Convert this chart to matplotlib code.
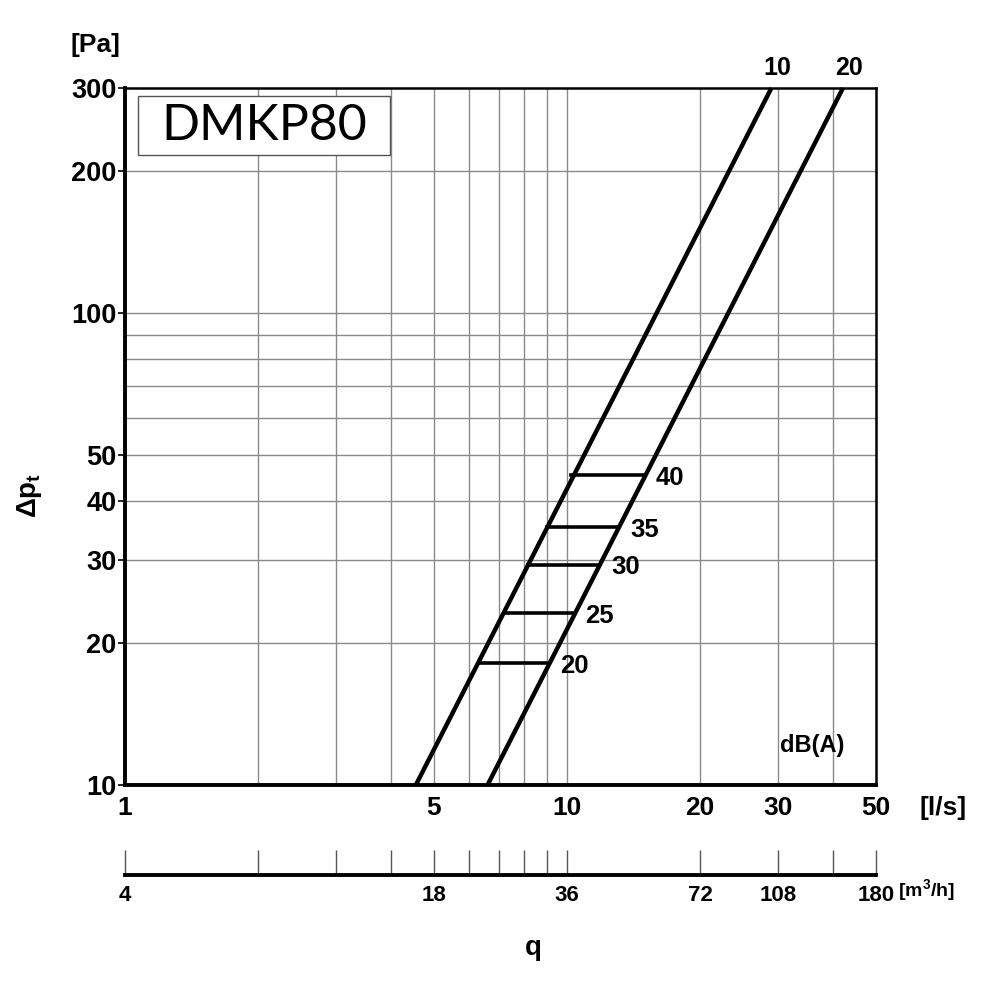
import numpy as np
import matplotlib
matplotlib.use("Agg")
import matplotlib.pyplot as plt
from matplotlib.patches import Rectangle

plt.rcParams['font.family'] = ['Liberation Sans', 'DejaVu Sans']
plt.rcParams['font.weight'] = 'bold'
plt.rcParams['mathtext.fontset'] = 'custom'
plt.rcParams['mathtext.rm'] = 'Liberation Sans:bold'
plt.rcParams['mathtext.it'] = 'Liberation Sans:bold'
plt.rcParams['mathtext.bf'] = 'Liberation Sans:bold'

# characteristic lines (q in l/s, dp in Pa), labelled by damper setting
line_labels = ['10', '20']
line_q = [[4.55, 29.0], [6.61, 42.1]]
line_dp = [[10, 300], [10, 300]]

# noise level steps dB(A)
db_levels = [20, 25, 30, 35, 40]
db_dp = [18.1, 23.1, 29.3, 35.2, 45.4]
db_q_left = [6.36, 7.24, 8.16, 9.01, 10.2]
db_q_right = [9.06, 10.31, 11.81, 13.04, 14.9]

# axes
x_grid = [2, 3, 4, 5, 6, 7, 8, 9, 10, 20, 30, 40]
x_ticks = [1, 5, 10, 20, 30, 50]
y_grid = [20, 30, 40, 50, 60, 70, 80, 90, 100, 200]
y_ticks = [10, 20, 30, 40, 50, 100, 200, 300]

# second scale in m3/h
m3h_ticks = [3.6, 7.2, 10.8, 14.4, 18, 21.6, 25.2, 28.8, 32.4, 36, 72, 108, 144, 180]
m3h_labels = {3.6: '4', 18: '18', 36: '36', 72: '72', 108: '108', 180: '180'}

grid_col = '#8a8a8a'

fig = plt.figure(figsize=(10, 10), dpi=100)
ax = fig.add_axes([0.125, 0.215, 0.751, 0.697])
ax.set_xscale('log')
ax.set_yscale('log')
ax.set_xlim(1, 50)
ax.set_ylim(10, 300)

for xv in x_grid:
    ax.axvline(xv, color=grid_col, lw=1, zorder=1)
for yv in y_grid:
    ax.axhline(yv, color=grid_col, lw=1, zorder=1)

ax.set_xticks(x_ticks)
ax.set_xticklabels([str(v) for v in x_ticks], fontsize=19, fontweight='bold')
ax.set_xticks([], minor=True)
ax.set_yticks(y_ticks)
ax.set_yticklabels([str(v) for v in y_ticks], fontsize=19.5, fontweight='bold')
ax.set_yticks([], minor=True)
ax.tick_params(axis='x', length=0, pad=8)
ax.tick_params(axis='y', length=5, width=1.2, pad=1)

for s in ['top', 'right']:
    ax.spines[s].set_linewidth(1.8)
for s in ['bottom', 'left']:
    ax.spines[s].set_linewidth(2.8)

for lab, qq, pp in zip(line_labels, line_q, line_dp):
    ax.plot(qq, pp, color='black', lw=3.2, solid_capstyle='butt', zorder=3, clip_on=False)
    ax.annotate(lab, (qq[1], pp[1]), xytext=(4, 6), textcoords='offset points',
                ha='center', va='bottom', fontsize=18, fontweight='bold')

for lev, dp, ql, qr in zip(db_levels, db_dp, db_q_left, db_q_right):
    ax.plot([ql, qr], [dp, dp], color='black', lw=2.6, zorder=3)
    ax.annotate(str(lev), (qr, dp), xytext=(9, -2), textcoords='offset points',
                ha='left', va='center', fontsize=18.5, fontweight='bold')

ax.text(0.915, 0.057, 'dB(A)', transform=ax.transAxes, ha='center', va='center',
        fontsize=17, fontweight='bold')

# model name box
ax.add_patch(Rectangle((0.0173, 0.904), 0.336, 0.0845, transform=ax.transAxes,
                       facecolor='white', edgecolor='#555555', lw=1, zorder=4))
ax.text(0.185, 0.946, 'DMKP80', transform=ax.transAxes, ha='center', va='center',
        fontsize=36, fontweight='normal', family=['Lato', 'DejaVu Sans'], zorder=5)

# secondary flow scale
ax2 = fig.add_axes([0.125, 0.125, 0.751, 0.001])
ax2.set_xscale('log')
ax2.set_xlim(3.6, 180)
ax2.set_yticks([])
for s in ['top', 'left', 'right']:
    ax2.spines[s].set_visible(False)
ax2.spines['bottom'].set_linewidth(2.8)
ax2.patch.set_alpha(0)
ax2.set_xticks(m3h_ticks)
ax2.set_xticklabels([m3h_labels.get(v, '') for v in m3h_ticks], fontsize=16, fontweight='bold')
ax2.set_xticks([], minor=True)
ax2.tick_params(axis='x', direction='in', length=18, width=1, color='#555555', pad=7)

fig.text(0.095, 0.955, '[Pa]', ha='center', va='center', fontsize=19, fontweight='bold')
fig.text(0.03, 0.505, r'$\Delta p_t$', ha='center', va='center', rotation=90, fontsize=20)
fig.text(0.943, 0.192, '[l/s]', ha='center', va='center', fontsize=19, fontweight='bold')
fig.text(0.926, 0.110, '[m$^3$/h]', ha='center', va='center', fontsize=14, fontweight='bold')
fig.text(0.533, 0.052, 'q', ha='center', va='center', fontsize=20, fontweight='bold')

fig.savefig('out.png', dpi=100, facecolor='white')
